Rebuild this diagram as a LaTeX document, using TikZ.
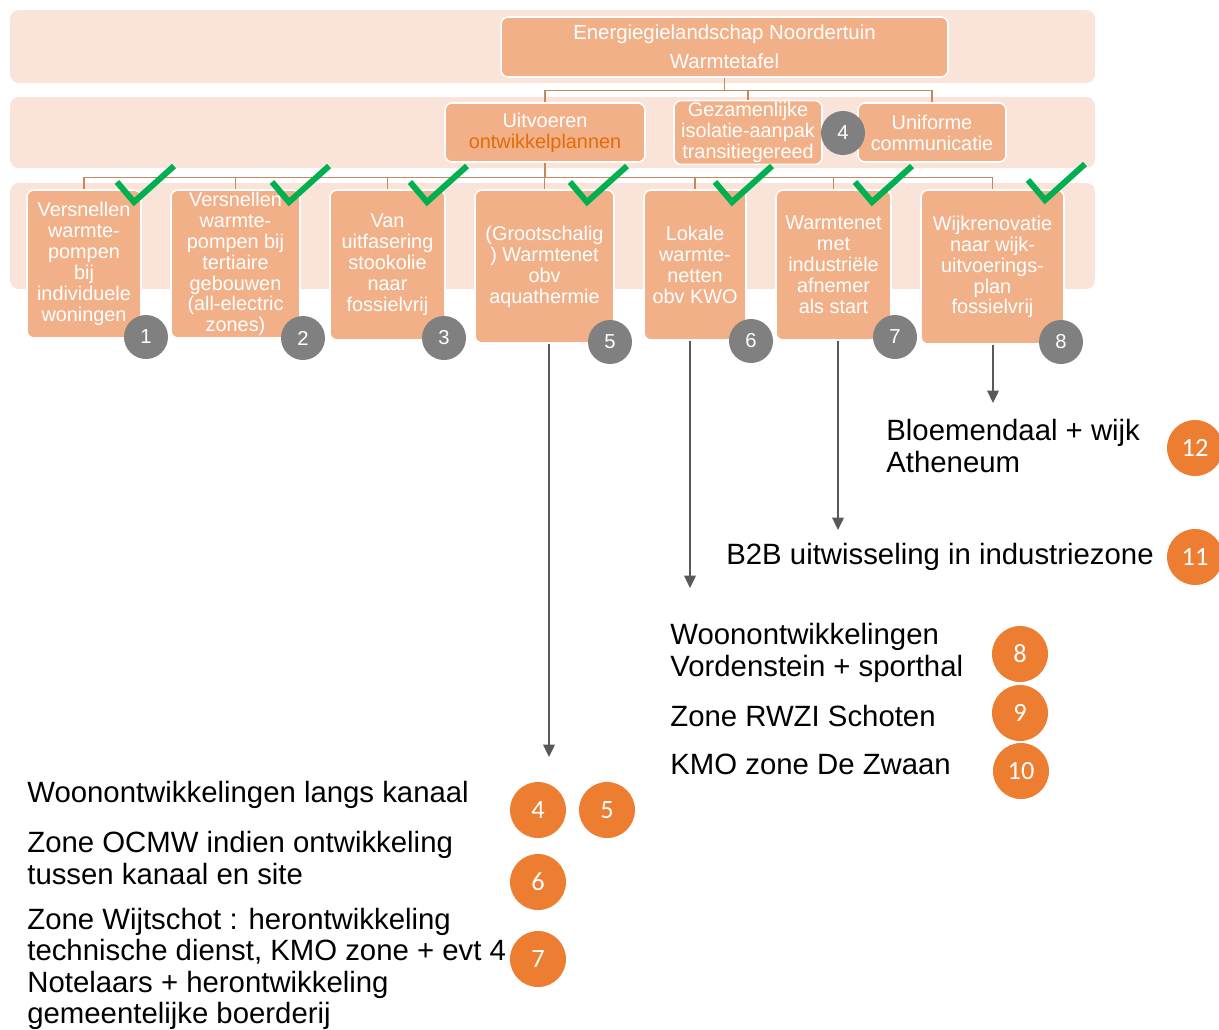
\documentclass[tikz,border=0pt]{standalone}
\usepackage{fontspec}
\setmainfont{Liberation Sans}
\newfontfamily\numfont{Carlito}
\usetikzlibrary{arrows.meta}

\definecolor{bandcol}{HTML}{FAE3D9}
\definecolor{boxcol}{HTML}{F1B088}
\definecolor{linkcol}{HTML}{C8865E}
\definecolor{hotcol}{HTML}{E36C09}
\definecolor{greycol}{HTML}{808080}
\definecolor{orangecol}{HTML}{ED7D31}
\definecolor{tickcol}{HTML}{00B050}
\definecolor{arrcol}{HTML}{595959}

\begin{document}
\begin{tikzpicture}[x=0.02cm, y=-0.02cm,
    band/.style={fill=bandcol, rounded corners=5pt},
    box/.style={draw=white, line width=0.9pt, fill=boxcol, rounded corners=4pt,
      text=white, align=center, inner sep=1pt,
      font=\fontsize{11.3}{11.9}\selectfont},
    link/.style={draw=linkcol, line width=0.8pt},
    grey/.style={circle, fill=greycol, text=white, minimum size=0.88cm, inner sep=0pt,
      font=\fontsize{11.5}{12}\selectfont},
    ornum/.style={circle, fill=orangecol, text=white, minimum size=1.12cm, inner sep=0pt,
      font=\numfont\fontsize{15}{15}\selectfont},
    tick/.style={draw=tickcol, line width=3.4pt},
    arr/.style={draw=arrcol, line width=1.1pt, -{Triangle[length=7pt, width=6.5pt]}},
    note/.style={inner sep=0pt, align=left, font=\fontsize{16.7}{17.9}\selectfont}]
\useasboundingbox (0,0) rectangle (1219,1029);

% background bands
\fill[band] (10,10) rectangle (1095,83);
\fill[band] (10,97) rectangle (1095,168);
\fill[band] (10,183) rectangle (1095,289);

% top levels
\node[box, minimum width=8.94cm, minimum height=1.2cm,
  font=\fontsize{11.6}{16.4}\selectfont] (title) at (724.5,47)
  {Energiegielandschap Noordertuin\\Warmtetafel};
\node[box, minimum width=4cm, minimum height=1.18cm] (uit) at (545,132.5)
  {Uitvoeren\\\textcolor{hotcol}{ontwikkelplannen}};
\node[box, minimum width=2.96cm, minimum height=1.18cm] (gez) at (748,132.5)
  {Gezamenlijke\\isolatie-aanpak\\transitiegereed};
\node[box, minimum width=2.96cm, minimum height=1.18cm] (uni) at (932,132.5)
  {Uniforme\\communicatie};

% measures
\node[box, minimum width=2.28cm, minimum height=2.96cm] (g1) at (84,264)
  {Versnellen\\warmte-\\pompen\\bij\\individuele\\woningen};
\node[box, minimum width=2.58cm, minimum height=2.96cm] (g2) at (235.5,264)
  {Versnellen\\warmte-\\pompen bij\\tertiaire\\gebouwen\\(all-electric\\zones)};
\node[box, minimum width=2.3cm, minimum height=3cm] (g3) at (387.5,265)
  {Van\\uitfasering\\stookolie\\naar\\fossielvrij};
\node[box, minimum width=2.78cm, minimum height=3.06cm] (g4) at (544.5,266.5)
  {(Grootschalig\\) Warmtenet\\obv\\aquathermie};
\node[box, minimum width=2.04cm, minimum height=3cm] (g5) at (695,265)
  {Lokale\\warmte-\\netten\\obv KWO};
\node[box, minimum width=2.3cm, minimum height=3cm] (g6) at (833.5,265)
  {Warmtenet\\met\\industriële\\afnemer\\als start};
\node[box, minimum width=2.86cm, minimum height=3.08cm] (g7) at (992.5,267)
  {Wijkrenovatie\\naar wijk-\\uitvoerings-\\plan\\fossielvrij};

% connectors
\draw[link] (title.south) -- ++(0,13) -| (uit.north);
\draw[link] (title.south) -- ++(0,13) -| (gez.north);
\draw[link] (title.south) -- ++(0,13) -| (uni.north);
\foreach \g in {g1,g2,g3,g4,g5,g6,g7}
  \draw[link] (uit.south) -- ++(0,15) -| (\g.north);

% grey numbers
\node[grey] (n1) at (146,337) {1};
\node[grey] (n2) at (303,338) {2};
\node[grey] (n3) at (444,338) {3};
\node[grey] (n4) at (843,133) {4};
\node[grey] (n5) at (610,342) {5};
\node[grey] (n6) at (751,341) {6};
\node[grey] (n7) at (895,337) {7};
\node[grey] (n8) at (1061,342) {8};

% ticks
\foreach \x/\y in {117/182, 272/182, 410/182, 570/182, 715/182, 855/182, 1028/180}
  \draw[tick] (\x,\y) -- ++(17,20) -- ++(40,-36);

% arrows
\coordinate (e4) at (549,757);
\coordinate (e5) at (690,588);
\coordinate (e6) at (838,530);
\coordinate (e7) at (993,403);
\draw[arr] (g4.south -| e4) -- (e4);
\draw[arr] (g5.south -| e5) -- (e5);
\draw[arr] (g6.south -| e6) -- (e6);
\draw[arr] (g7.south -| e7) -- (e7);

% locations
\node[note, anchor=west] (t12) at (886,446) {Bloemendaal + wijk\\Atheneum};
\node[ornum] (o12) at (1195,448) {12};
\node[note, anchor=west] (t11) at (726,557) {B2B uitwisseling in industriezone};
\node[ornum] (o11) at (1195,557) {11};
\node[note, anchor=west] (t8) at (670,653) {Woonontwikkelingen\\Vordenstein + sporthal};
\node[ornum] (o8) at (1020,654) {8};
\node[note, anchor=west] (t9) at (670,716) {Zone RWZI Schoten};
\node[ornum] (o9) at (1020,713) {9};
\node[note, anchor=west] (t10) at (670,764) {KMO zone De Zwaan};
\node[ornum] (o10) at (1021,771) {10};

\node[note, anchor=west] (ta) at (27,795) {Woonontwikkelingen langs kanaal};
\node[ornum] (o4) at (538,810) {4};
\node[ornum] (o5) at (607,810) {5};
\node[note, anchor=west] (tb) at (27,858) {Zone OCMW indien ontwikkeling\\tussen kanaal en site};
\node[ornum] (o6) at (538,882) {6};
\node[note, anchor=west] (tc) at (27,969) {Zone Wijtschot : herontwikkeling\\technische dienst, KMO zone + evt 4\\Notelaars + herontwikkeling\\gemeentelijke boerderij};
\node[ornum] (o7) at (538,959) {7};
\end{tikzpicture}
\end{document}
